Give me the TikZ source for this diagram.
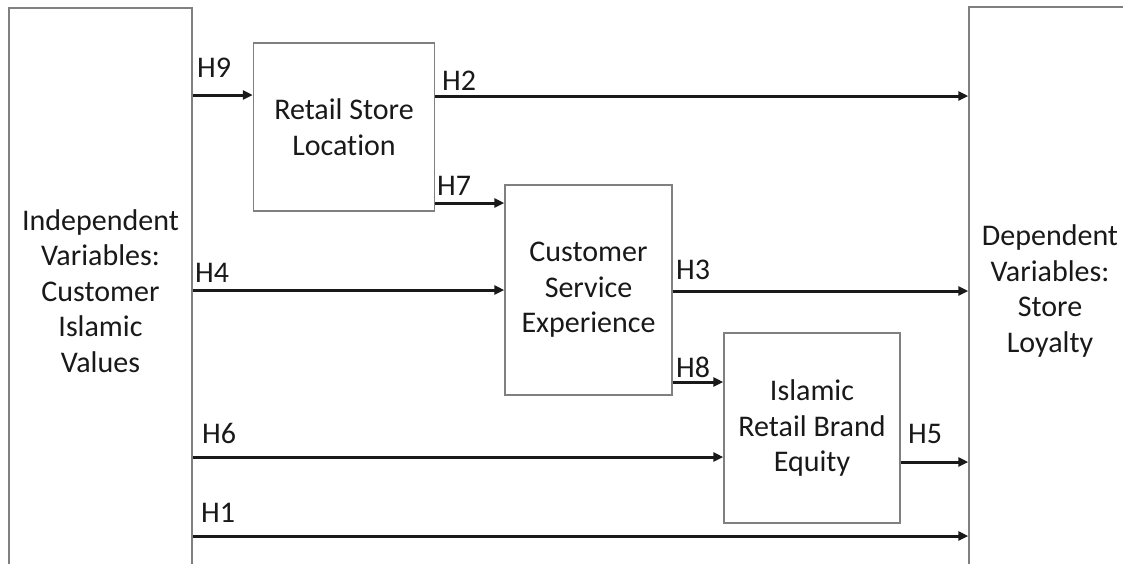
\documentclass[tikz,border=0pt]{standalone}
\usepackage{fontspec}
\setmainfont{Carlito}[Ligatures={NoCommon}]
\usetikzlibrary{arrows.meta}
\definecolor{boxgray}{RGB}{128,128,128}
\definecolor{txt}{RGB}{25,25,25}
\tikzset{
  box/.style={draw=boxgray, line width=1.5pt, fill=white, align=center, text=txt, inner sep=0pt,
              font=\fontsize{30}{35.5}\selectfont},
  arr/.style={draw=black!90, line width=3pt, -{Triangle[length=10pt,width=9pt]}},
  lbl/.style={anchor=base west, text=txt, inner sep=0pt, font=\fontsize{30}{34}\selectfont}
}
\begin{document}
\begin{tikzpicture}[x=1pt,y=-1pt]
\useasboundingbox (0,0) rectangle (1123,563);
\clip (0,0) rectangle (1123,563);
\fill[white] (0,0) rectangle (1123,563);
% boxes
\node[box, minimum width=183pt, minimum height=566pt] (iv) at (100.5,291) {Independent\\Variables:\\Customer\\Islamic\\Values};
\node[box, minimum width=162pt, minimum height=568pt] (dv) at (1050,291) {Dependent\\Variables:\\Store\\Loyalty};
\node[box, minimum width=181pt, minimum height=168pt] (rs) at (344,127) {Retail Store\\Location};
\node[box, minimum width=167pt, minimum height=210pt] (cs) at (588.5,290) {Customer\\Service\\Experience};
\node[box, minimum width=176pt, minimum height=190pt] (ib) at (812,428) {Islamic\\Retail Brand\\Equity};
% connectors
\draw[arr] (iv.east |- 0,95) -- (rs.west |- 0,95);
\draw[arr] (rs.east |- 0,96) -- (dv.west |- 0,96);
\draw[arr] (rs.east |- 0,203) -- (cs.west |- 0,203);
\draw[arr] (iv.east |- 0,290) -- (cs.west |- 0,290);
\draw[arr] (cs.east |- 0,291) -- (dv.west |- 0,291);
\draw[arr] (cs.east |- 0,382) -- (ib.west |- 0,382);
\draw[arr] (iv.east |- 0,457) -- (ib.west |- 0,457);
\draw[arr] (ib.east |- 0,462) -- (dv.west |- 0,462);
\draw[arr] (iv.east |- 0,536) -- (dv.west |- 0,536);
% labels
\node[lbl] (h9) at (197,77) {H9};
\node[lbl] (h2) at (442,90) {H2};
\node[lbl] (h7) at (437,195) {H7};
\node[lbl] (h4) at (195,282) {H4};
\node[lbl] (h3) at (676,279) {H3};
\node[lbl] (h8) at (676,377) {H8};
\node[lbl] (h6) at (202,443) {H6};
\node[lbl] (h5) at (908,443) {H5};
\node[lbl] (h1) at (201,522) {H1};
\end{tikzpicture}
\end{document}
